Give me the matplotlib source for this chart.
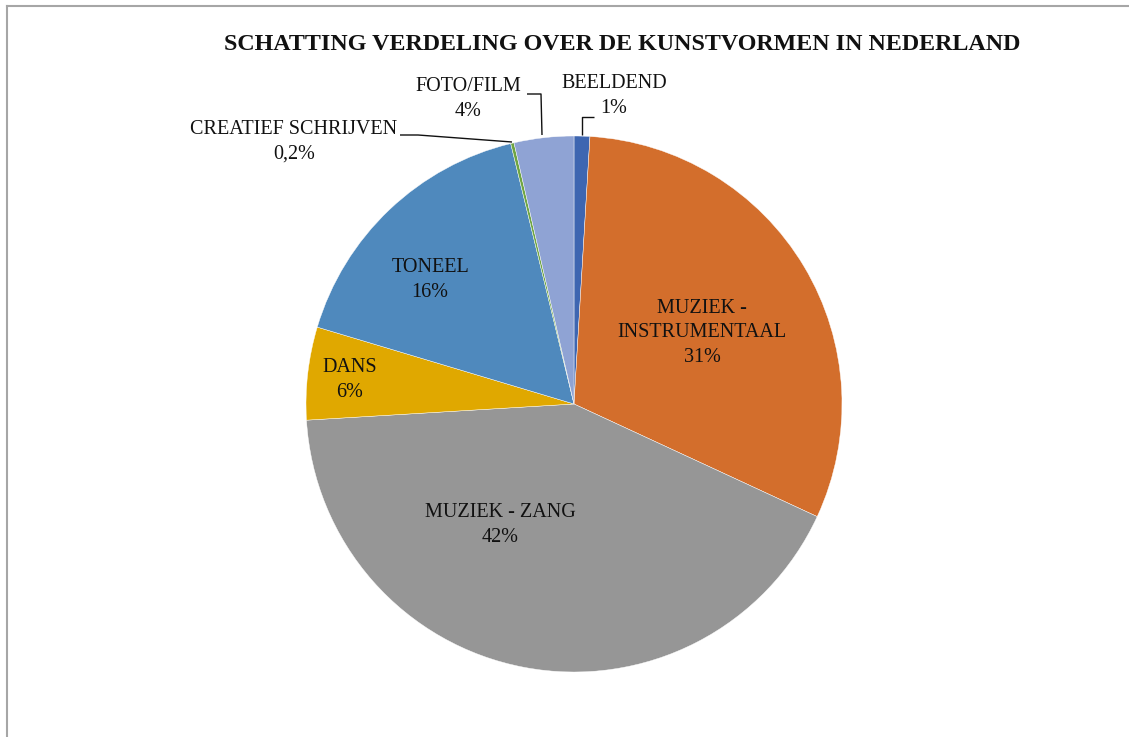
import matplotlib
matplotlib.use("Agg")
import matplotlib.pyplot as plt
from matplotlib.lines import Line2D

title = "SCHATTING VERDELING OVER DE KUNSTVORMEN IN NEDERLAND"
categories = ["BEELDEND", "MUZIEK -\nINSTRUMENTAAL", "MUZIEK - ZANG", "DANS", "TONEEL",
              "CREATIEF SCHRIJVEN", "FOTO/FILM"]
values = [0.95, 31.0, 42.2, 5.6, 16.6, 0.2, 3.6]
pct_labels = ["1%", "31%", "42%", "6%", "16%", "0,2%", "4%"]
colors = ["#3e66b1", "#d36e2c", "#969696", "#e0a800", "#4f89bd", "#6fa543", "#8fa3d4"]

W, H = 1129, 737
fig = plt.figure(figsize=(W / 100, H / 100), dpi=100)
fig.patch.set_facecolor("white")

# outer chart frame (extends beyond the image on right/bottom)
fig.add_artist(Line2D([6.5 / W, 1.0], [1 - 5.5 / H, 1 - 5.5 / H], transform=fig.transFigure,
                      color="#a6a6a6", lw=1.5))
fig.add_artist(Line2D([6.5 / W, 6.5 / W], [0, 1 - 5.5 / H], transform=fig.transFigure,
                      color="#a6a6a6", lw=1.5))

cx, cy, r = 574, 404, 268
ax = fig.add_axes([(cx - r) / W, (H - cy - r) / H, 2 * r / W, 2 * r / H])
ax.pie(values, colors=colors, startangle=90, counterclock=False,
       wedgeprops=dict(edgecolor="white", linewidth=0.3), radius=1.0)
ax.set_xlim(-1, 1)
ax.set_ylim(-1, 1)
ax.set_aspect("equal")
ax.axis("off")

font = dict(family="Liberation Serif", fontsize=14.5, color="#111111",
            ha="center", va="center", linespacing=1.42)

# label positions in pie units (radius = 1)
label_pos = [(0.149, 1.149), (0.478, 0.265), (-0.276, -0.451), (-0.836, 0.090),
             (-0.537, 0.463), (-1.045, 0.978), (-0.396, 1.138)]
for cat, pct, (x, y) in zip(categories, pct_labels, label_pos):
    ax.text(x, y, f"{cat}\n{pct}", clip_on=False, **font)

# leader lines (pixel coordinates converted to pie units)
def p(px, py):
    return ((px - cx) / r, (cy - py) / r)

leaders = [
    [p(582, 135), p(582, 117), p(594, 117)],           # BEELDEND
    [p(527, 94), p(541, 94), p(542, 135)],             # FOTO/FILM
    [p(400, 135), p(418, 135), p(512, 142)],           # CREATIEF
]
for pts in leaders:
    xs, ys = zip(*pts)
    ax.plot(xs, ys, color="#111111", lw=1.0, clip_on=False, solid_capstyle="butt")

fig.text(622 / W, 1 - 44 / H, title, family="Liberation Serif", fontweight="bold",
         fontsize=17.3, ha="center", va="center", color="#111111")

fig.savefig("out.png", dpi=100)
